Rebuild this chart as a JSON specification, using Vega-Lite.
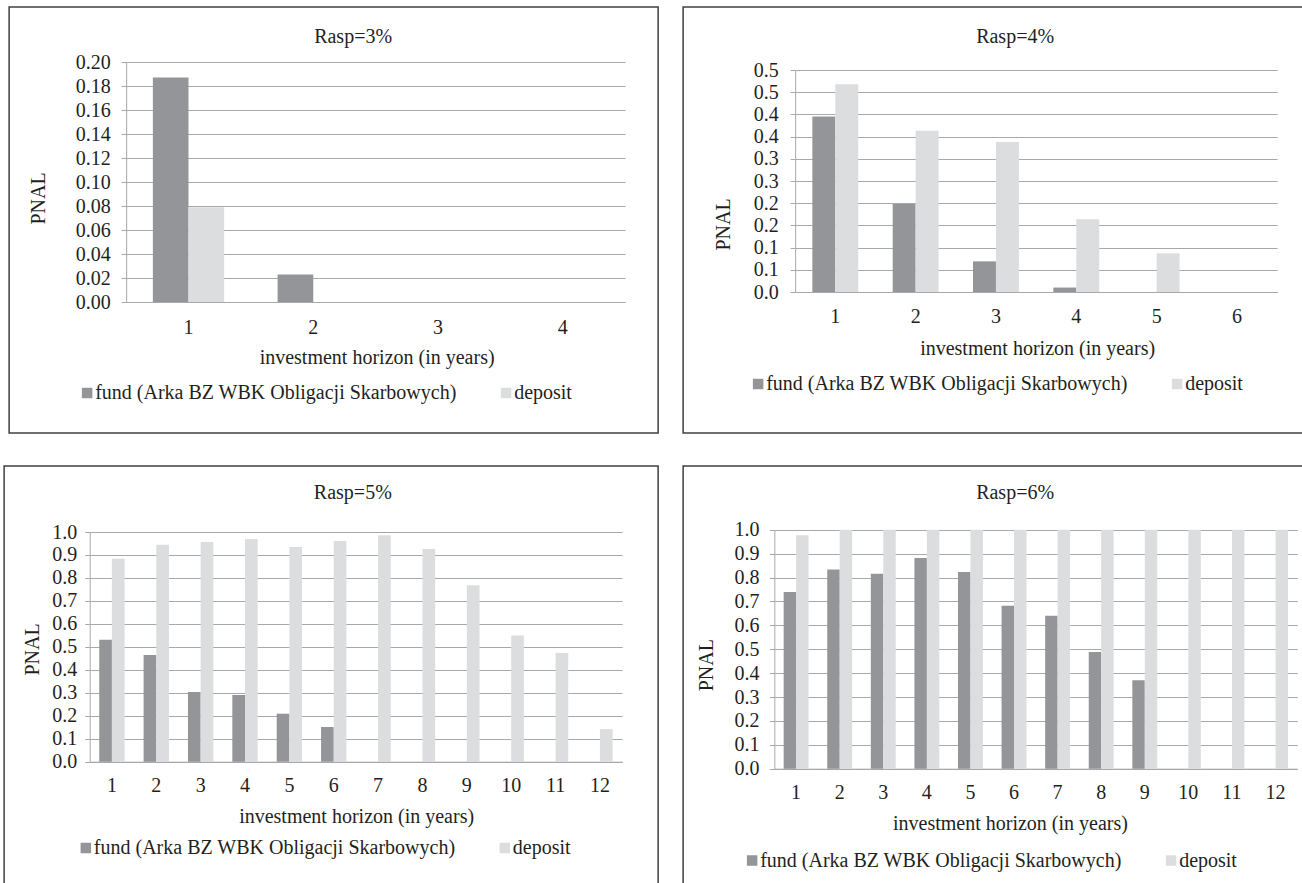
{
  "$schema": "https://vega.github.io/schema/vega-lite/v6.json",
  "usermeta": {"embedOptions": {"actions": false}},
  "padding": {"left": 3, "top": 6, "right": 0, "bottom": 0},
  "background": "white",
  "center": true,
  "spacing": 31,
  "resolve": {"scale": {"x": "independent", "y": "independent", "xOffset": "independent", "color": "independent"}, "legend": {"color": "independent"}, "axis": {"x": "independent", "y": "independent"}},
  "vconcat": [
    {
      "spacing": 23,
      "resolve": {"scale": {"x": "independent", "y": "independent", "xOffset": "independent", "color": "independent"}, "legend": {"color": "independent"}, "axis": {"x": "independent", "y": "independent"}},
      "hconcat": [
        {
          "width": 649,
          "height": 426,
          "title": {"text": "Rasp=3%", "anchor": "middle", "frame": "group", "baseline": "middle", "offset": -30, "dx": 19.5, "dy": 20},
          "data": {"values": [
            {"horizon": 1, "series": "fund (Arka BZ WBK Obligacji Skarbowych)", "pnal": 0.187},
            {"horizon": 2, "series": "fund (Arka BZ WBK Obligacji Skarbowych)", "pnal": 0.023},
            {"horizon": 3, "series": "fund (Arka BZ WBK Obligacji Skarbowych)", "pnal": 0},
            {"horizon": 4, "series": "fund (Arka BZ WBK Obligacji Skarbowych)", "pnal": 0},
            {"horizon": 1, "series": "deposit", "pnal": 0.079},
            {"horizon": 2, "series": "deposit", "pnal": 0},
            {"horizon": 3, "series": "deposit", "pnal": 0},
            {"horizon": 4, "series": "deposit", "pnal": 0}
          ]},
          "mark": {"type": "bar"},
          "encoding": {
            "x": {"field": "horizon", "type": "ordinal",
                  "scale": {"range": [117, 616], "paddingInner": 0.4286, "paddingOuter": 0.2143},
                  "axis": {"title": "investment horizon (in years)", "offset": -131, "labelPadding": 31, "titleX": 367.5, "titleY": 55}},
            "xOffset": {"field": "series", "scale": {"domain": ["fund (Arka BZ WBK Obligacji Skarbowych)", "deposit"]}},
            "y": {"field": "pnal", "type": "quantitative",
                  "scale": {"domain": [0, 0.2], "range": [295, 55], "nice": false},
                  "axis": {"title": "PNAL", "values": [0, 0.02, 0.04, 0.06, 0.08, 0.1, 0.12, 0.14, 0.16, 0.18, 0.2], "format": ".2f", "offset": -117, "labelPadding": 11, "titleX": -88, "titleY": 191}},
            "color": {"field": "series", "type": "nominal",
                      "scale": {"domain": ["fund (Arka BZ WBK Obligacji Skarbowych)", "deposit"], "range": ["#939598", "#dcddde"]},
                      "legend": {"orient": "none", "legendX": 68, "legendY": 376, "direction": "horizontal", "title": null, "columnPadding": 39}}
          }
        },
        {
          "width": 640,
          "height": 426,
          "title": {"text": "Rasp=4%", "anchor": "middle", "frame": "group", "baseline": "middle", "offset": -30, "dx": 12, "dy": 20},
          "data": {"values": [
            {"horizon": 1, "series": "fund (Arka BZ WBK Obligacji Skarbowych)", "pnal": 0.395},
            {"horizon": 2, "series": "fund (Arka BZ WBK Obligacji Skarbowych)", "pnal": 0.198},
            {"horizon": 3, "series": "fund (Arka BZ WBK Obligacji Skarbowych)", "pnal": 0.069},
            {"horizon": 4, "series": "fund (Arka BZ WBK Obligacji Skarbowych)", "pnal": 0.010},
            {"horizon": 5, "series": "fund (Arka BZ WBK Obligacji Skarbowych)", "pnal": 0},
            {"horizon": 6, "series": "fund (Arka BZ WBK Obligacji Skarbowych)", "pnal": 0},
            {"horizon": 1, "series": "deposit", "pnal": 0.468},
            {"horizon": 2, "series": "deposit", "pnal": 0.363},
            {"horizon": 3, "series": "deposit", "pnal": 0.338},
            {"horizon": 4, "series": "deposit", "pnal": 0.164},
            {"horizon": 5, "series": "deposit", "pnal": 0.087},
            {"horizon": 6, "series": "deposit", "pnal": 0}
          ]},
          "mark": {"type": "bar"},
          "encoding": {
            "x": {"field": "horizon", "type": "ordinal",
                  "scale": {"range": [112, 594], "paddingInner": 0.4286, "paddingOuter": 0.2143},
                  "axis": {"title": "investment horizon (in years)", "offset": -141, "labelPadding": 30, "titleX": 354, "titleY": 56}},
            "xOffset": {"field": "series", "scale": {"domain": ["fund (Arka BZ WBK Obligacji Skarbowych)", "deposit"]}},
            "y": {"field": "pnal", "type": "quantitative",
                  "scale": {"domain": [0, 0.5], "range": [285, 63], "nice": false},
                  "axis": {"title": "PNAL", "values": [0, 0.05, 0.1, 0.15, 0.2, 0.25, 0.3, 0.35, 0.4, 0.45, 0.5], "labelExpr": "format(datum.value + 0.0001, '.1f')", "offset": -112, "labelPadding": 12, "titleX": -72, "titleY": 217}},
            "color": {"field": "series", "type": "nominal",
                      "scale": {"domain": ["fund (Arka BZ WBK Obligacji Skarbowych)", "deposit"], "range": ["#939598", "#dcddde"]},
                      "legend": {"orient": "none", "legendX": 65, "legendY": 367, "direction": "horizontal", "title": null, "columnPadding": 39}}
          }
        }
      ]
    },
    {
      "spacing": 23,
      "resolve": {"scale": {"x": "independent", "y": "independent", "xOffset": "independent", "color": "independent"}, "legend": {"color": "independent"}, "axis": {"x": "independent", "y": "independent"}},
      "hconcat": [
        {
          "width": 654,
          "height": 440,
          "title": {"text": "Rasp=5%", "anchor": "middle", "frame": "group", "baseline": "middle", "offset": -30.3, "dx": 21.7, "dy": 17},
          "data": {"values": [
            {"horizon": 1, "series": "fund (Arka BZ WBK Obligacji Skarbowych)", "pnal": 0.531},
            {"horizon": 2, "series": "fund (Arka BZ WBK Obligacji Skarbowych)", "pnal": 0.464},
            {"horizon": 3, "series": "fund (Arka BZ WBK Obligacji Skarbowych)", "pnal": 0.303},
            {"horizon": 4, "series": "fund (Arka BZ WBK Obligacji Skarbowych)", "pnal": 0.290},
            {"horizon": 5, "series": "fund (Arka BZ WBK Obligacji Skarbowych)", "pnal": 0.209},
            {"horizon": 6, "series": "fund (Arka BZ WBK Obligacji Skarbowych)", "pnal": 0.151},
            {"horizon": 7, "series": "fund (Arka BZ WBK Obligacji Skarbowych)", "pnal": 0},
            {"horizon": 8, "series": "fund (Arka BZ WBK Obligacji Skarbowych)", "pnal": 0},
            {"horizon": 9, "series": "fund (Arka BZ WBK Obligacji Skarbowych)", "pnal": 0},
            {"horizon": 10, "series": "fund (Arka BZ WBK Obligacji Skarbowych)", "pnal": 0},
            {"horizon": 11, "series": "fund (Arka BZ WBK Obligacji Skarbowych)", "pnal": 0},
            {"horizon": 12, "series": "fund (Arka BZ WBK Obligacji Skarbowych)", "pnal": 0},
            {"horizon": 1, "series": "deposit", "pnal": 0.884},
            {"horizon": 2, "series": "deposit", "pnal": 0.945},
            {"horizon": 3, "series": "deposit", "pnal": 0.956},
            {"horizon": 4, "series": "deposit", "pnal": 0.970},
            {"horizon": 5, "series": "deposit", "pnal": 0.935},
            {"horizon": 6, "series": "deposit", "pnal": 0.961},
            {"horizon": 7, "series": "deposit", "pnal": 0.986},
            {"horizon": 8, "series": "deposit", "pnal": 0.926},
            {"horizon": 9, "series": "deposit", "pnal": 0.768},
            {"horizon": 10, "series": "deposit", "pnal": 0.549},
            {"horizon": 11, "series": "deposit", "pnal": 0.473},
            {"horizon": 12, "series": "deposit", "pnal": 0.142}
          ]},
          "mark": {"type": "bar"},
          "encoding": {
            "x": {"field": "horizon", "type": "ordinal",
                  "scale": {"range": [85.6, 618], "paddingInner": 0.4286, "paddingOuter": 0.2143},
                  "axis": {"title": "investment horizon (in years)", "offset": -144.3, "labelPadding": 30, "titleX": 352, "titleY": 55}},
            "xOffset": {"field": "series", "scale": {"domain": ["fund (Arka BZ WBK Obligacji Skarbowych)", "deposit"]}},
            "y": {"field": "pnal", "type": "quantitative",
                  "scale": {"domain": [0, 1], "range": [295.7, 66], "nice": false},
                  "axis": {"title": "PNAL", "values": [0, 0.1, 0.2, 0.3, 0.4, 0.5, 0.6, 0.7, 0.8, 0.9, 1], "format": ".1f", "offset": -85.6, "labelPadding": 8, "titleX": -57.6, "titleY": 183}},
            "color": {"field": "series", "type": "nominal",
                      "scale": {"domain": ["fund (Arka BZ WBK Obligacji Skarbowych)", "deposit"], "range": ["#939598", "#dcddde"]},
                      "legend": {"orient": "none", "legendX": 71.7, "legendY": 372, "direction": "horizontal", "title": null, "columnPadding": 39}}
          }
        },
        {
          "width": 645,
          "height": 440,
          "title": {"text": "Rasp=6%", "anchor": "middle", "frame": "group", "baseline": "middle", "offset": -30.3, "dx": 9.5, "dy": 17},
          "data": {"values": [
            {"horizon": 1, "series": "fund (Arka BZ WBK Obligacji Skarbowych)", "pnal": 0.739},
            {"horizon": 2, "series": "fund (Arka BZ WBK Obligacji Skarbowych)", "pnal": 0.833},
            {"horizon": 3, "series": "fund (Arka BZ WBK Obligacji Skarbowych)", "pnal": 0.816},
            {"horizon": 4, "series": "fund (Arka BZ WBK Obligacji Skarbowych)", "pnal": 0.882},
            {"horizon": 5, "series": "fund (Arka BZ WBK Obligacji Skarbowych)", "pnal": 0.823},
            {"horizon": 6, "series": "fund (Arka BZ WBK Obligacji Skarbowych)", "pnal": 0.682},
            {"horizon": 7, "series": "fund (Arka BZ WBK Obligacji Skarbowych)", "pnal": 0.640},
            {"horizon": 8, "series": "fund (Arka BZ WBK Obligacji Skarbowych)", "pnal": 0.488},
            {"horizon": 9, "series": "fund (Arka BZ WBK Obligacji Skarbowych)", "pnal": 0.370},
            {"horizon": 10, "series": "fund (Arka BZ WBK Obligacji Skarbowych)", "pnal": 0},
            {"horizon": 11, "series": "fund (Arka BZ WBK Obligacji Skarbowych)", "pnal": 0},
            {"horizon": 12, "series": "fund (Arka BZ WBK Obligacji Skarbowych)", "pnal": 0},
            {"horizon": 1, "series": "deposit", "pnal": 0.977},
            {"horizon": 2, "series": "deposit", "pnal": 1},
            {"horizon": 3, "series": "deposit", "pnal": 1},
            {"horizon": 4, "series": "deposit", "pnal": 1},
            {"horizon": 5, "series": "deposit", "pnal": 1},
            {"horizon": 6, "series": "deposit", "pnal": 1},
            {"horizon": 7, "series": "deposit", "pnal": 1},
            {"horizon": 8, "series": "deposit", "pnal": 1},
            {"horizon": 9, "series": "deposit", "pnal": 1},
            {"horizon": 10, "series": "deposit", "pnal": 1},
            {"horizon": 11, "series": "deposit", "pnal": 1},
            {"horizon": 12, "series": "deposit", "pnal": 1}
          ]},
          "mark": {"type": "bar"},
          "encoding": {
            "x": {"field": "horizon", "type": "ordinal",
                  "scale": {"range": [91.2, 614.2], "paddingInner": 0.4286, "paddingOuter": 0.2143},
                  "axis": {"title": "investment horizon (in years)", "offset": -137.3, "labelPadding": 29.5, "titleX": 326.8, "titleY": 54.3}},
            "xOffset": {"field": "series", "scale": {"domain": ["fund (Arka BZ WBK Obligacji Skarbowych)", "deposit"]}},
            "y": {"field": "pnal", "type": "quantitative",
                  "scale": {"domain": [0, 1], "range": [302.7, 63.7], "nice": false},
                  "axis": {"title": "PNAL", "values": [0, 0.1, 0.2, 0.3, 0.4, 0.5, 0.6, 0.7, 0.8, 0.9, 1], "format": ".1f", "offset": -91.2, "labelPadding": 10.4, "titleX": -68.2, "titleY": 198.7}},
            "color": {"field": "series", "type": "nominal",
                      "scale": {"domain": ["fund (Arka BZ WBK Obligacji Skarbowych)", "deposit"], "range": ["#939598", "#dcddde"]},
                      "legend": {"orient": "none", "legendX": 59, "legendY": 384.5, "direction": "horizontal", "title": null, "columnPadding": 39}}
          }
        }
      ]
    }
  ],
  "config": {
    "view": {"stroke": "#404040", "strokeWidth": 1.5},
    "font": "Liberation Serif",
    "title": {"font": "Liberation Serif", "fontSize": 20, "fontWeight": "normal", "color": "#231f20"},
    "axis": {"labelFont": "Liberation Serif", "labelFontSize": 20, "labelColor": "#231f20", "titleFont": "Liberation Serif", "titleFontSize": 20, "titleFontWeight": "normal", "titleColor": "#231f20", "domainColor": "#a7a9ac", "tickColor": "#a7a9ac", "gridColor": "#a7a9ac", "domainWidth": 1, "gridWidth": 1, "tickWidth": 1, "labelOverlap": false},
    "axisY": {"grid": true, "tickSize": 5, "titleAngle": -90, "titleBaseline": "middle", "titleAlign": "center", "labelBaseline": "middle", "labelAlign": "right"},
    "axisX": {"grid": false, "ticks": false, "tickSize": 0, "labelAngle": 0, "labelBaseline": "alphabetic", "titleBaseline": "middle", "titleAlign": "center"},
    "legend": {"labelFont": "Liberation Serif", "labelFontSize": 20, "labelColor": "#231f20", "labelLimit": 1000, "symbolType": "square", "symbolSize": 110, "symbolStrokeWidth": 0, "labelOffset": -2, "padding": 0, "symbolOpacity": 1},
    "bar": {"stroke": null}
  }
}
